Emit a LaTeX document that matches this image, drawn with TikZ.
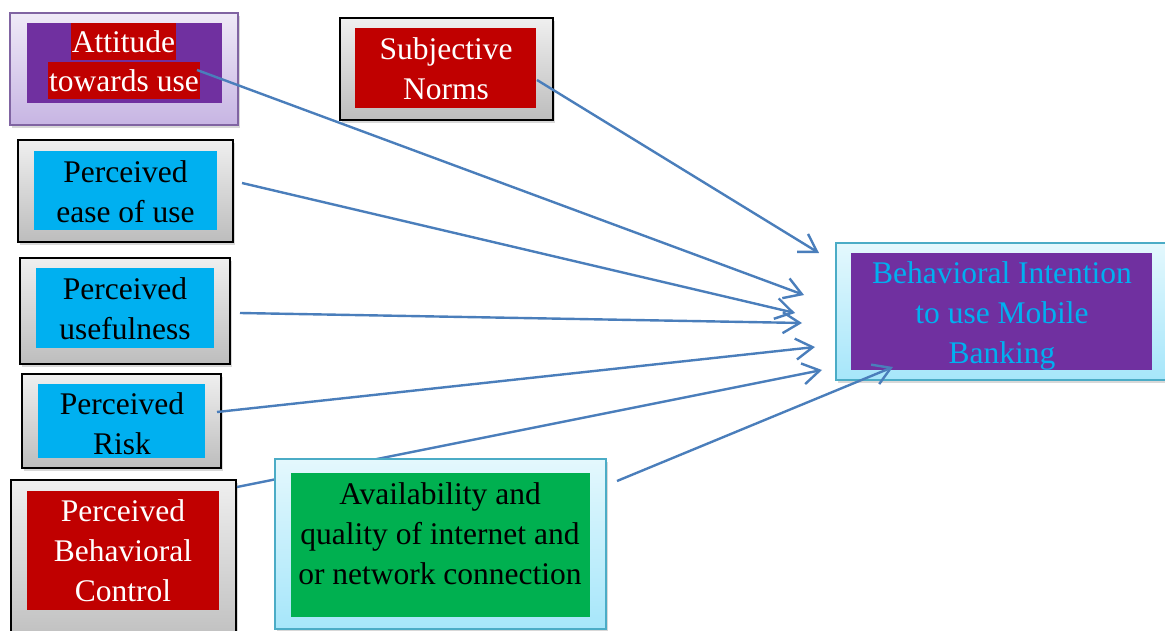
\documentclass[tikz,border=0pt]{standalone}
\usepackage{fontspec}
\setmainfont{Liberation Serif}
\usetikzlibrary{arrows.meta,shadows}

\definecolor{mspurple}{HTML}{7030A0}
\definecolor{msred}{HTML}{C00000}
\definecolor{mscyan}{HTML}{00B0F0}
\definecolor{msgreen}{HTML}{00B050}
\definecolor{linkblue}{HTML}{4A7EBB}
\definecolor{greytop}{HTML}{EFEFEF}
\definecolor{greybot}{HTML}{BDBDBD}
\definecolor{lavtop}{HTML}{EFEAF7}
\definecolor{lavbot}{HTML}{C7B5E3}
\definecolor{lavedge}{HTML}{8064A2}
\definecolor{aquatop}{HTML}{E4F8FD}
\definecolor{aquabot}{HTML}{A6E6FA}
\definecolor{aquaedge}{HTML}{4BACC6}

\begin{document}
\begin{tikzpicture}[x=1pt,y=-1pt,
  every node/.style={inner sep=0pt, outer sep=0pt},
  frame/.style={rectangle, line width=1.4pt,
    drop shadow={opacity=0.3, shadow xshift=2pt, shadow yshift=-3pt}},
  greyframe/.style={frame, draw=black, top color=greytop, bottom color=greybot},
  lavframe/.style={frame, draw=lavedge, top color=lavtop, bottom color=lavbot},
  aquaframe/.style={frame, draw=aquaedge, top color=aquatop, bottom color=aquabot},
  panel/.style={rectangle},
  label/.style={align=center, font=\fontsize{31.5}{40}\selectfont},
  highlit/.style={fill=msred, text=white, inner xsep=1pt,
    text height=29.5pt, text depth=7.5pt, font=\fontsize{31.5}{40}\selectfont},
  link/.style={draw=linkblue, line width=2.4pt,
    -{Straight Barb[length=17pt, width=21pt, line width=2.4pt]}}
]
\useasboundingbox (0,0) rectangle (1165,631);
\fill[white] (0,0) rectangle (1165,631);

% ---- source constructs ----
\node[lavframe, minimum width=228pt, minimum height=112pt] (att) at (124,69) {};
\node[panel, fill=mspurple, minimum width=195pt, minimum height=80pt] (atti) at (124.5,63) {};
\node[highlit] (attl1) at (123.5,41.5) {Attitude};
\node[highlit] (attl2) at (124,81) {towards use};

\node[greyframe, minimum width=213pt, minimum height=102pt] (sn) at (446.5,69) {};
\node[panel, fill=msred, minimum width=181pt, minimum height=80pt] (sni) at (445.5,68) {};
\node[label, text=white] (snt) at (446,69) {Subjective\\Norms};

\node[greyframe, minimum width=215pt, minimum height=102pt] (peou) at (125.5,191) {};
\node[panel, fill=mscyan, minimum width=183pt, minimum height=79pt] (peoui) at (125.5,190.5) {};
\node[label] (peout) at (125.5,192) {Perceived\\ease of use};

\node[greyframe, minimum width=210pt, minimum height=106pt] (pu) at (125,311) {};
\node[panel, fill=mscyan, minimum width=178pt, minimum height=80pt] (pui) at (125,308) {};
\node[label] (put) at (125,309) {Perceived\\usefulness};

\node[greyframe, minimum width=199pt, minimum height=94pt] (pr) at (121.5,421) {};
\node[panel, fill=mscyan, minimum width=167pt, minimum height=74pt] (pri) at (121.5,421) {};
\node[label] (prt) at (122,424) {Perceived\\Risk};

\node[greyframe, minimum width=225pt, minimum height=170pt] (pbc) at (123.5,565) {};
\node[panel, fill=msred, minimum width=192pt, minimum height=119pt] (pbci) at (123,550.5) {};
\node[label, text=white] (pbct) at (123,551) {Perceived\\Behavioral\\Control};

% ---- connector endpoints ----
\coordinate (sAtt) at (197,70);
\coordinate (sSn)  at (537,80);
\coordinate (sPeou) at (242,183);
\coordinate (sPu) at (240,313);
\coordinate (sPr) at (217,412);
\coordinate (sPbc) at (237,487);
\coordinate (sAv) at (617,481);
\coordinate (tSn)  at (819,253);
\coordinate (tAtt) at (804,295);
\coordinate (tPeou) at (795,313);
\coordinate (tPu) at (802,323);
\coordinate (tPr) at (815,347);
\coordinate (tPbc) at (822,370);
\coordinate (tAv) at (893,367);

% this one runs behind the availability box
\draw[link] (sPbc) -- (tPbc);

% ---- availability construct ----
\node[aquaframe, minimum width=331pt, minimum height=170pt] (av) at (440.5,544) {};
\node[panel, fill=msgreen, minimum width=299pt, minimum height=144pt] (avi) at (440.5,545) {};
\node[label] (avt) at (440,533.5) {Availability and\\quality of internet and\\or network connection};

% ---- outcome construct ----
\node[aquaframe, minimum width=334pt, minimum height=137pt] (bi) at (1003,311.5) {};
\node[panel, fill=mspurple, minimum width=301pt, minimum height=117pt] (bii) at (1001.5,311.5) {};
\node[label, text=mscyan] (bit) at (1002,315.5) {Behavioral Intention\\to use Mobile\\Banking};

% ---- paths into behavioural intention ----
\draw[link] (sAtt) -- (tAtt);
\draw[link] (sSn) -- (tSn);
\draw[link] (sPeou) -- (tPeou);
\draw[link] (sPu) -- (tPu);
\draw[link] (sPr) -- (tPr);
\draw[link] (sAv) -- (tAv);
\end{tikzpicture}
\end{document}
